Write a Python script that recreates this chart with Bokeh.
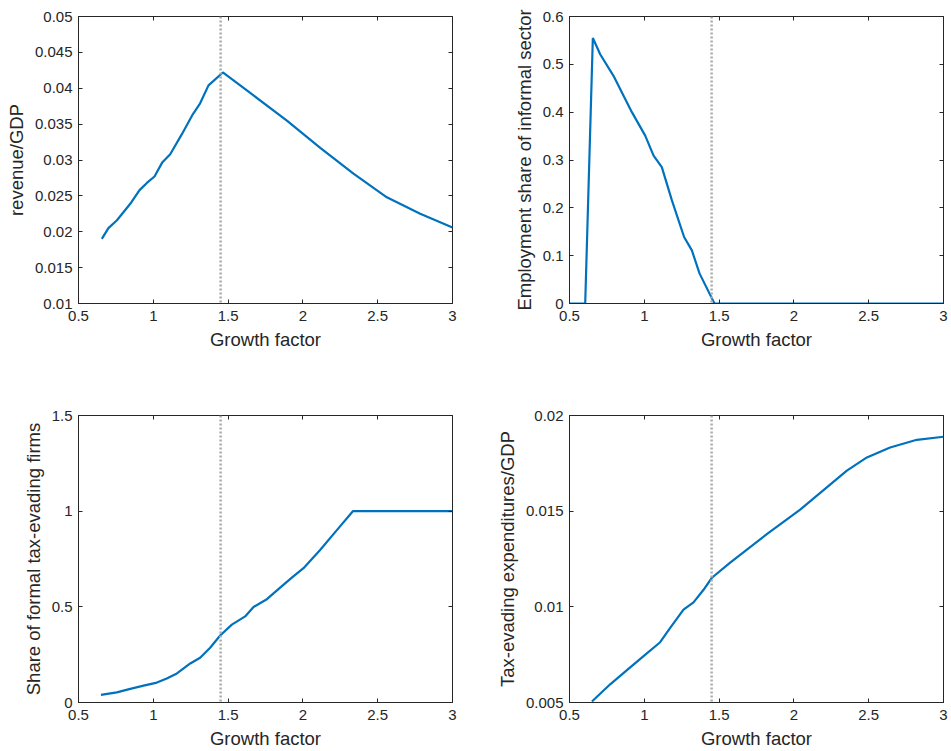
from bokeh.plotting import figure
from bokeh.layouts import column, row
from bokeh.models import Range1d, FixedTicker, LinearAxis, Span, CustomJSTickFormatter
from bokeh.embed import file_html
from bokeh.resources import INLINE

# ---------------- data ----------------
threshold = 1.45
x_ticks = [0.5, 1, 1.5, 2, 2.5, 3]

# panel 1: revenue/GDP
rev_x = [0.656, 0.70, 0.757, 0.846, 0.908, 0.957, 1.008, 1.061, 1.113, 1.191, 1.265,
         1.313, 1.369, 1.465, 1.670, 1.893, 2.116, 2.338, 2.561, 2.784, 3.0]
rev_y = [0.0190, 0.0205, 0.0216, 0.0239, 0.0258, 0.0268, 0.0277, 0.0297, 0.0308, 0.0336, 0.0364,
         0.0379, 0.0404, 0.0422, 0.0390, 0.0355, 0.0317, 0.0281, 0.0248, 0.0225, 0.0206]
rev_ticks = [0.01, 0.015, 0.02, 0.025, 0.03, 0.035, 0.04, 0.045, 0.05]

# panel 2: employment share of informal sector
inf_x = [0.5, 0.605, 0.656, 0.705, 0.794, 0.917, 1.006, 1.062, 1.117, 1.184, 1.266,
         1.318, 1.369, 1.469, 3.0]
inf_y = [0.0, 0.0, 0.555, 0.521, 0.476, 0.400, 0.351, 0.309, 0.285, 0.216, 0.139,
         0.111, 0.063, 0.0, 0.0]
inf_ticks = [0, 0.1, 0.2, 0.3, 0.4, 0.5, 0.6]

# panel 3: share of formal tax-evading firms
eva_x = [0.650, 0.756, 0.846, 0.935, 1.024, 1.090, 1.158, 1.247, 1.313, 1.380, 1.447,
         1.525, 1.614, 1.670, 1.759, 1.848, 1.930, 2.004, 2.115, 2.227, 2.334, 3.0]
eva_y = [0.040, 0.053, 0.071, 0.088, 0.104, 0.125, 0.152, 0.204, 0.234, 0.286, 0.350,
         0.407, 0.450, 0.499, 0.540, 0.600, 0.655, 0.702, 0.797, 0.901, 1.0, 1.0]
eva_ticks = [0, 0.5, 1, 1.5]

# panel 4: tax-evading expenditures/GDP
exp_x = [0.650, 0.772, 0.884, 0.995, 1.106, 1.173, 1.262, 1.329, 1.396, 1.452, 1.574,
         1.819, 2.042, 2.354, 2.488, 2.643, 2.822, 3.0]
exp_y = [0.00505, 0.00595, 0.00669, 0.00742, 0.00815, 0.00890, 0.00985, 0.01023, 0.01089,
         0.01152, 0.01231, 0.01380, 0.01508, 0.01712, 0.01781, 0.01833, 0.01873, 0.01889]
exp_ticks = [0.005, 0.01, 0.015, 0.02]

# ---------------- style ----------------
FONT = "Liberation Sans"
TXT = "#262626"
BLUE = "#0072BD"

fmt_code = "return String(Number(tick.toPrecision(10)));"


def make_panel(xs, ys, yr, yticks, ylabel, width, height, bl, bt, br, bb):
    p = figure(width=width, height=height, output_backend="svg", toolbar_location=None,
               x_range=Range1d(0.5, 3), y_range=Range1d(*yr),
               min_border_left=bl, min_border_top=bt, min_border_right=br, min_border_bottom=bb)
    p.grid.visible = False
    p.outline_line_color = TXT
    p.outline_line_width = 1
    p.background_fill_color = "white"
    p.border_fill_color = "white"

    for ax, ticks in ((p.xaxis[0], x_ticks), (p.yaxis[0], yticks)):
        ax.ticker = FixedTicker(ticks=ticks)
        ax.formatter = CustomJSTickFormatter(code=fmt_code)
        ax.major_tick_in = 4
        ax.major_tick_out = 0
        ax.minor_tick_line_color = None
        ax.axis_line_color = TXT
        ax.major_tick_line_color = TXT
        ax.major_label_text_font = FONT
        ax.major_label_text_font_size = "15px"
        ax.major_label_text_color = TXT
        ax.axis_label_text_font = FONT
        ax.axis_label_text_font_size = "18.5px"
        ax.axis_label_text_font_style = "normal"
        ax.axis_label_text_color = TXT

    p.xaxis[0].axis_label = "Growth factor"
    p.xaxis[0].major_label_standoff = 7
    p.xaxis[0].axis_label_standoff = 5
    p.yaxis[0].axis_label = ylabel
    p.yaxis[0].major_label_standoff = 6
    p.yaxis[0].axis_label_standoff = 5

    # inward ticks on top and right
    top = LinearAxis(ticker=FixedTicker(ticks=x_ticks), major_tick_in=4, major_tick_out=0,
                     minor_tick_line_color=None, major_label_text_font_size="0px",
                     major_label_standoff=0, axis_line_color=None, major_tick_line_color=TXT)
    right = LinearAxis(ticker=FixedTicker(ticks=yticks), major_tick_in=4, major_tick_out=0,
                       minor_tick_line_color=None, major_label_text_font_size="0px",
                       major_label_standoff=0, axis_line_color=None, major_tick_line_color=TXT)
    top.major_label_overrides = {t: "" for t in x_ticks}
    right.major_label_overrides = {t: "" for t in yticks}
    p.add_layout(top, "above")
    p.add_layout(right, "right")

    p.add_layout(Span(location=threshold, dimension="height", line_color="#ABABAB",
                      line_width=2.5, line_dash="2 2"))
    p.line(xs, ys, line_color=BLUE, line_width=2.2)
    return p


p1 = make_panel(rev_x, rev_y, (0.01, 0.05), rev_ticks, "revenue/GDP",
                480, 380, 78, 16, 28, 77)
p2 = make_panel(inf_x, inf_y, (0, 0.6), inf_ticks, "Employment share of informal sector",
                471, 380, 89, 16, 8, 77)
p3 = make_panel(eva_x, eva_y, (0, 1.5), eva_ticks, "Share of formal tax-evading firms",
                480, 371, 78, 35, 28, 48)
p4 = make_panel(exp_x, exp_y, (0.005, 0.02), exp_ticks, "Tax-evading expenditures/GDP",
                471, 371, 89, 35, 8, 48)

layout = column(row(p1, p2), row(p3, p4))

open("out.html", "w").write(file_html(layout, INLINE))
